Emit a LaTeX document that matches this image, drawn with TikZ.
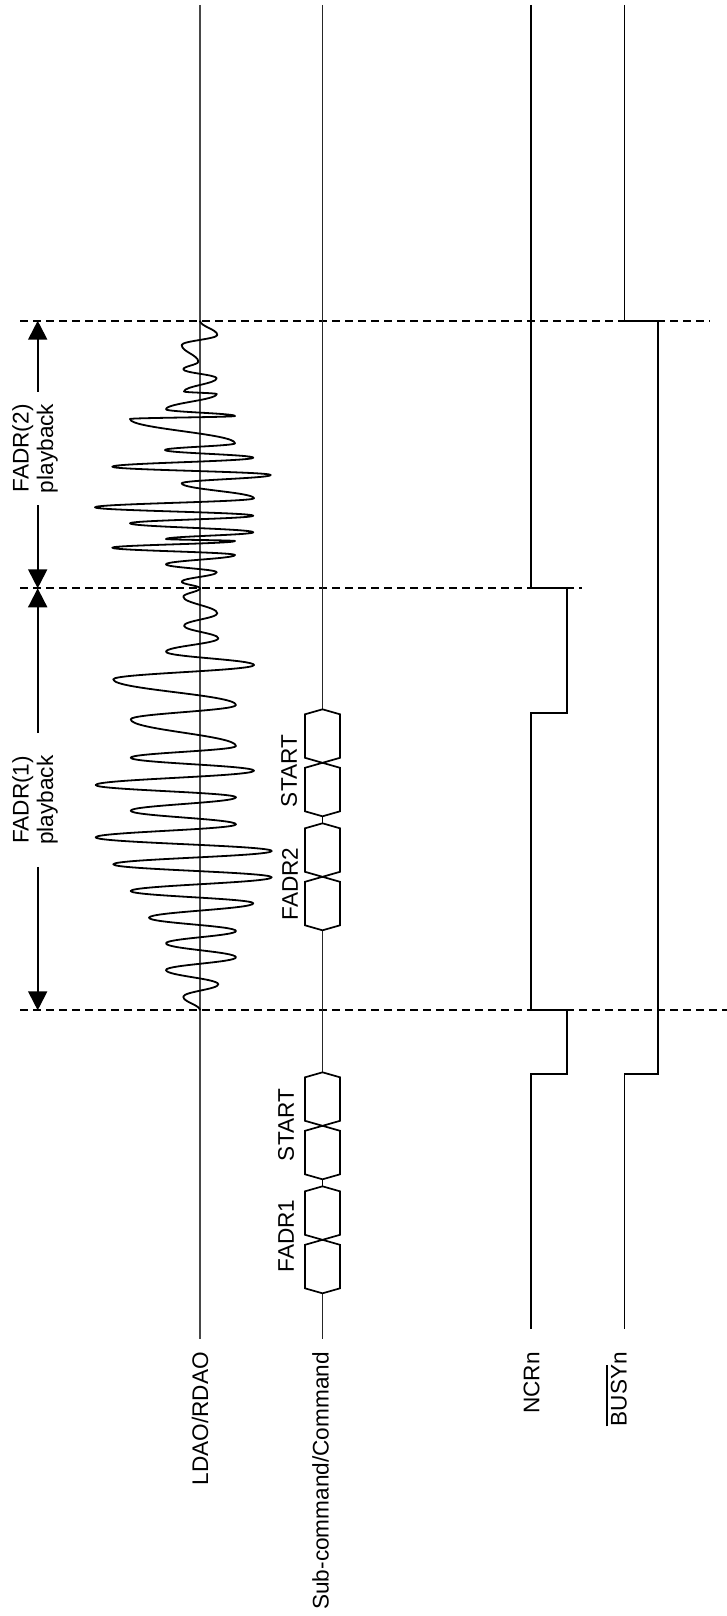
\documentclass[tikz,border=0pt]{standalone}
\usepackage{fontspec}
\setmainfont{Liberation Sans}
\usetikzlibrary{arrows.meta}
\newcommand\barbusy{\vbox{\hrule height 1.5pt\kern3.3pt\hbox{BUSY}}}
\begin{document}
\begin{tikzpicture}[x=1pt,y=-1pt,
  sig/.style={line width=1.7pt, black},
  guide/.style={line width=1.8pt, black, dash pattern=on 8pt off 5pt},
  wave/.style={line width=1.8pt, black, line join=round},
  lab/.style={font=\fontsize{22.6}{24.5}\selectfont, inner sep=0pt, rotate=90},
  dim/.style={line width=2pt, -{Triangle[length=19pt,width=19pt]}},
  hexpair/.pic={
    \draw[sig] (0,0) -- (-17.5,5) -- (-17.5,48.5) -- (17.5,58.5) -- (17.5,102) -- (0,107)
      -- (-17.5,102) -- (-17.5,58.5) -- (17.5,48.5) -- (17.5,5) -- cycle;
    \draw[sig] (0,107) -- (0,114);
    \draw[sig] (0,114) -- (-17.5,119) -- (-17.5,162.5) -- (17.5,172.5) -- (17.5,216) -- (0,221)
      -- (-17.5,216) -- (-17.5,172.5) -- (17.5,162.5) -- (17.5,119) -- cycle;
  }
]
\useasboundingbox (0,0) rectangle (727,1616);

% dashed time markers
\coordinate (g2a) at (20,320.7);  \coordinate (g2b) at (710,320.7);
\coordinate (g1a) at (20,588.3);  \coordinate (g1b) at (582,588.3);
\coordinate (g0a) at (20,1010.3); \coordinate (g0b) at (727,1010.3);
\draw[guide] (g2a) -- (g2b);
\draw[guide] (g1a) -- (g1b);
\draw[guide] (g0a) -- (g0b);

% LDAO/RDAO axis
\coordinate (lt) at (200,5); \coordinate (lb) at (200,1339);
\draw[sig, black!72] (lt) -- (lb);

% Sub-command / Command bus
\coordinate (st) at (322.5,5);
\coordinate (b1t) at (322.5,709.3);  \coordinate (b1b) at (322.5,930.3);
\coordinate (b0t) at (322.5,1072.3); \coordinate (b0b) at (322.5,1293.3);
\coordinate (sb) at (322.5,1339);
\draw[sig, black!85] (st) -- (b1t);
\draw[sig, black!85] (b1b) -- (b0t);
\draw[sig, black!85] (b0b) -- (sb);
\pic at (b1t) {hexpair};
\pic at (b0t) {hexpair};

% NCRn
\draw[sig] (531,5) -- (531,588.3) -- (566.7,588.3) -- (566.7,713) -- (531,713)
  -- (531,1010.3) -- (566.7,1010.3) -- (566.7,1073.7) -- (531,1073.7) -- (531,1329);

% BUSYn
\draw[sig] (624.5,5) -- (624.5,320.7) -- (658.3,320.7) -- (658.3,1073.7)
  -- (624.5,1073.7) -- (624.5,1329);

% audio waveform
\draw[wave] (200,320.7)
 \foreach \x/\y [remember=\x as \px (initially 200), remember=\y as \py (initially 320.7)] in {
  217.3/335, 181.7/345, 198.3/361.7, 183.3/369.3, 216.7/378.3, 184/391.5, 216.7/394,
  166/409.3, 235/416, 130/419, 235/443.3, 165/450, 253.3/457.7, 112.3/466.7,
  270.7/475, 181.7/483.3, 254/498.3, 95/507.3, 253.3/515.7, 130/523.3, 253.3/532.3,
  166/539, 235/541, 112.3/547.7, 235/555, 166/564.3, 216.7/572.3, 181.7/581.7,
  200/588.3, 183.3/596.7, 217.3/613.3, 184/625.7, 218.3/638.3, 166/651.7, 254/665,
  113.3/679.3, 236/705, 130.7/719.3, 236/746, 130.7/757.7, 254/770.7, 95.7/785,
  236/797.3, 130.7/810.7, 236/824.3, 95.7/837.3, 271.7/851, 113.3/864.3, 271.7/877.3,
  130.7/891, 253.3/903.3, 149/917.7, 236/931, 166/943.3, 236/957.3, 166/970,
  218.3/984.3, 183.3/996.7, 200/1010.3}
 { .. controls (\px,{\py+0.4*(\y-\py)}) and (\x,{\y-0.4*(\y-\py)}) .. (\x,\y) };

% playback dimension arrows
\node[lab, align=center, inner xsep=12pt] (f2) at (35,448.4) {FADR(2)\\playback};
\node[lab, align=center, inner xsep=22pt] (f1) at (35,800) {FADR(1)\\playback};
\coordinate (a2t) at (37.7,320.7); \coordinate (a2b) at (37.7,588.3);
\coordinate (a1t) at (37.7,588.3); \coordinate (a1b) at (37.7,1010.3);
\draw[dim] (f2.east -| a2t) -- (a2t);
\draw[dim] (f2.west -| a2t) -- (a2b);
\draw[dim] (f1.east -| a1t) -- (a1t);
\draw[dim] (f1.west -| a1t) -- (a1b);

% bus labels
\node[lab] (s1) at (289,771) {START};
\node[lab] (fb2) at (290,884) {FADR2};
\node[lab] (s0) at (286,1125) {START};
\node[lab] (fb1) at (286,1236) {FADR1};

% signal names
\node[lab, anchor=east] (nL) at (200,1352) {LDAO/RDAO};
\node[lab, anchor=east] (nS) at (320.5,1352) {Sub-command/Command};
\node[lab, anchor=east] (nN) at (531.5,1352) {NCRn};
\node[lab, anchor=east] (nB) at (616.5,1352) {\barbusy n};
\end{tikzpicture}
\end{document}
